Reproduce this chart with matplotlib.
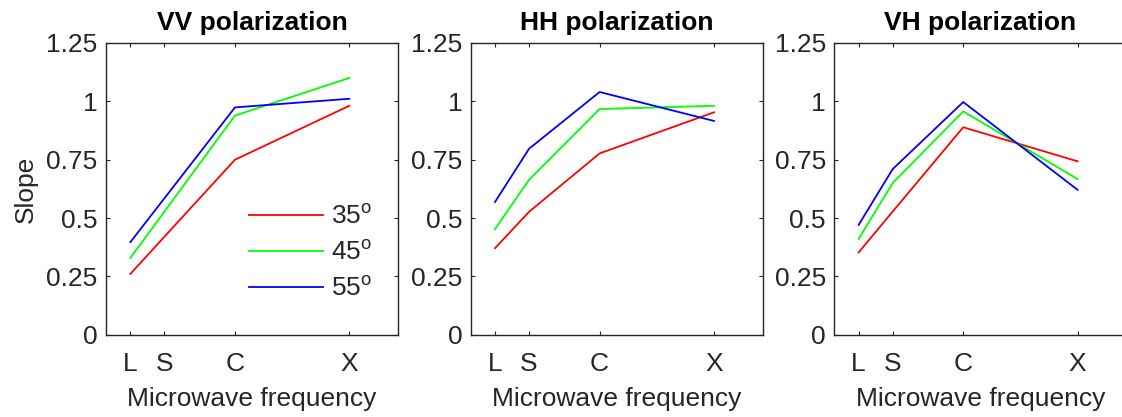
import numpy as np
import matplotlib
matplotlib.use("Agg")
import matplotlib.pyplot as plt

plt.rcParams['font.family'] = ['Liberation Sans', 'DejaVu Sans']
plt.rcParams['mathtext.default'] = 'regular'

# band positions on the frequency axis
bands = ['L', 'S', 'C', 'X']
band_pos = [1.0, 2.4, 5.3, 10.0]

angles = ['35', '45', '55']
colors = ['#ff0000', '#00ff00', '#0000ff']

# slope values per polarization, rows = incidence angle, cols = band (nan = no data)
vv = [[0.261, np.nan, 0.750, 0.981],
      [0.329, np.nan, 0.939, 1.100],
      [0.397, np.nan, 0.974, 1.011]]
hh = [[0.371, 0.527, 0.777, 0.953],
      [0.453, 0.664, 0.967, 0.981],
      [0.569, 0.797, 1.040, 0.916]]
vh = [[0.353, 0.528, 0.889, 0.743],
      [0.411, 0.650, 0.957, 0.667],
      [0.471, 0.710, 0.997, 0.621]]

panels = [('VV polarization', vv), ('HH polarization', hh), ('VH polarization', vh)]
yticks = [0, 0.25, 0.5, 0.75, 1, 1.25]
ytick_labels = ['0', '0.25', '0.5', '0.75', '1', '1.25']

fig = plt.figure(figsize=(11.22, 4.17), dpi=100)
lefts = [0.0945, 0.4195, 0.7436]
axc = '#262626'

for i, (title, data) in enumerate(panels):
    ax = fig.add_axes([lefts[i], 0.197, 0.2602, 0.700])
    x = np.array(band_pos)
    for row, c, a in zip(data, colors, angles):
        y = np.array(row, dtype=float)
        ok = np.isfinite(y)
        ax.plot(x[ok], y[ok], color=c, lw=1.3, label=a + '$^{o}$')
    ax.set_xlim(0, 12)
    ax.set_ylim(0, 1.25)
    ax.set_xticks(band_pos)
    ax.set_xticklabels(bands)
    ax.set_yticks(yticks)
    ax.set_yticklabels(ytick_labels)
    ax.tick_params(direction='in', length=3, width=0.8, colors=axc,
                   labelsize=19, top=True, right=True, pad=6)
    ax.tick_params(axis='x', pad=12)
    for s in ax.spines.values():
        s.set_color(axc)
        s.set_linewidth(1.0)
    ax.set_title(title, fontsize=19, fontweight='bold', pad=9)
    ax.set_xlabel('Microwave frequency', fontsize=19, color=axc, labelpad=8)
    if i == 0:
        ax.set_ylabel('Slope', fontsize=19, color=axc, labelpad=6)
        ax.legend(loc='upper left', bbox_to_anchor=(0.452, 0.481), frameon=False,
                  fontsize=19, handlelength=2.84, labelspacing=0.46,
                  handletextpad=0.3, borderaxespad=0, labelcolor=axc)

fig.savefig('out.png', dpi=100)
